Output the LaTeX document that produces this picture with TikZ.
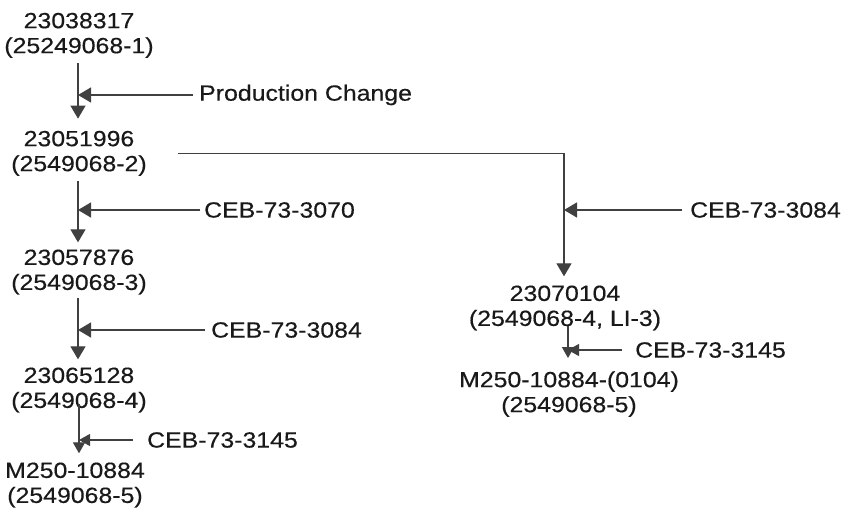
\documentclass[tikz,border=0pt]{standalone}
\usepackage{fontspec}
\setmainfont[FakeStretch=1.13,FakeBold=0.4]{Liberation Sans}
\usetikzlibrary{arrows.meta}
\begin{document}
\begin{tikzpicture}[x=1pt,y=-1pt,
  part/.style={align=center,inner sep=0pt,text=black!90,font=\fontsize{22}{25}\selectfont},
  note/.style={anchor=west,inner sep=0pt,text=black!90,font=\fontsize{22}{25}\selectfont},
  flow/.style={draw=black!75,line width=1.3pt,-{Triangle[length=13pt,width=15pt]}},
  flowsmall/.style={draw=black!75,line width=1.3pt,-{Triangle[length=11pt,width=12pt]}}]
\useasboundingbox (0,0) rectangle (843,510);

% column guides for the vertical flow lines
\coordinate (lc) at (78,0);
\coordinate (lc2) at (79,0);
\coordinate (rc) at (564,0);
\coordinate (rc2) at (568,0);

% part numbers, left chain
\node[part] (n1) at (79,35.3) {23038317\\(25249068-1)};
\node[part] (n2) at (79,153.3) {23051996\\(2549068-2)};
\node[part] (n3) at (79,272) {23057876\\(2549068-3)};
\node[part] (n4) at (79,390) {23065128\\(2549068-4)};
\node[part] (n5) at (75,485) {M250-10884\\(2549068-5)};

% part numbers, right branch
\node[part] (r1) at (565,308) {23070104\\(2549068-4, LI-3)};
\node[part] (r2) at (569,394) {M250-10884-(0104)\\(2549068-5)};

% change notes
\node[note] (c0) at (199,95) {Production Change};
\node[note] (c1) at (204,210) {CEB-73-3070};
\node[note] (c2) at (211,330) {CEB-73-3084};
\node[note] (c3) at (147,440) {CEB-73-3145};
\node[note] (c4) at (690,210) {CEB-73-3084};
\node[note] (c5) at (635,350) {CEB-73-3145};

% left chain
\draw[flow,shorten <=5.4pt,shorten >=12pt] (n1.south -| lc) -- (n2.north -| lc);
\draw[flow,shorten <=5.4pt,shorten >=7pt] (n2.south -| lc) -- (n3.north -| lc);
\draw[flow,shorten <=3.4pt,shorten >=8pt] (n3.south -| lc) -- (n4.north -| lc);
\draw[flowsmall,shorten <=-8.6pt,shorten >=9pt] (n4.south -| lc2) -- (n5.north -| lc2);

% branch to the right
\draw[flow,shorten <=31pt,shorten >=9pt] (n2.east) -| (r1.north -| rc);
\draw[flowsmall,shorten <=-4.6pt,shorten >=13pt] (r1.south -| rc2) -- (r2.north -| rc2);

% change-note arrows
\draw[flow,shorten <=6pt] (c0.west) -- (c0.west -| lc);
\draw[flow,shorten <=4pt] (c1.west) -- (c1.west -| lc);
\draw[flow,shorten <=6pt] (c2.west) -- (c2.west -| lc);
\draw[flowsmall,shorten <=14pt] (c3.west) -- (c3.west -| lc2);
\draw[flow,shorten <=8pt] (c4.west) -- (c4.west -| rc);
\draw[flowsmall,shorten <=13pt] (c5.west) -- (c5.west -| rc2);
\end{tikzpicture}
\end{document}
